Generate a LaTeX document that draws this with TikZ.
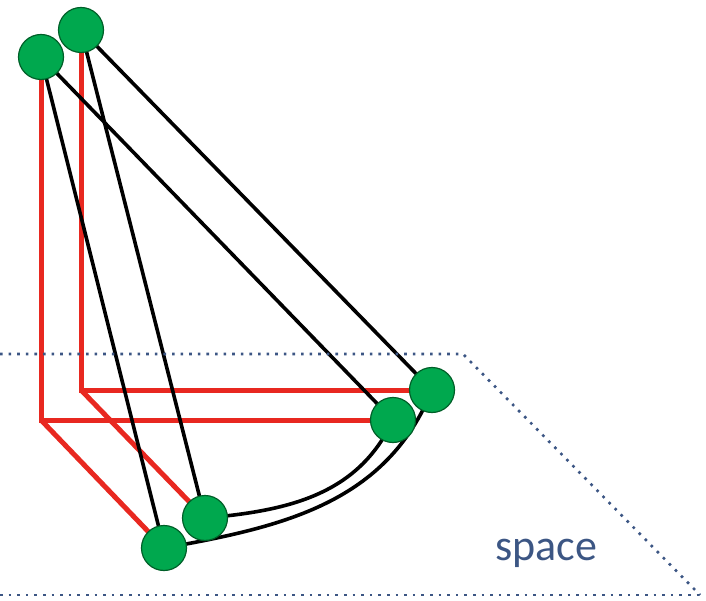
\documentclass[tikz,border=0pt]{standalone}
\usepackage{fontspec}
\setmainfont{Carlito}
\usetikzlibrary{backgrounds}

\definecolor{pointgreen}{RGB}{0,168,78}
\definecolor{pointrim}{RGB}{0,95,40}
\definecolor{linkred}{RGB}{232,40,32}
\definecolor{planeblue}{RGB}{60,86,132}

\begin{document}
\begin{tikzpicture}[
    x=1pt,
    y=-1pt,
    point/.style={
        circle,
        fill=pointgreen,
        draw=pointrim,
        line width=1.2pt,
        minimum size=45pt,
        inner sep=0pt
    },
    projection/.style={
        linkred,
        line width=5pt,
        line join=miter
    },
    link/.style={
        black,
        line width=3.6pt
    },
    plane/.style={
        planeblue,
        line width=2.6pt,
        dash pattern=on 2.6pt off 6pt
    },
    planelabel/.style={
        text=planeblue,
        font=\fontsize{44}{50}\selectfont,
        inner sep=0pt
    }
]

\useasboundingbox (0,0) rectangle (706,601);

\draw[plane]
    (0,354) -- (463,354) -- (700,595);
\draw[plane]
    (0,595) -- (700,595);

\node[planelabel] (spacelabel) at (546,553) {space};

\node[point] (A1) at (41,57) {};
\node[point] (B1) at (81,30) {};
\node[point] (A2) at (164,548) {};
\node[point] (B2) at (205,518) {};
\node[point] (A3) at (393,420) {};
\node[point] (B3) at (432,390) {};

\begin{scope}[on background layer]
\coordinate (cornerA) at (A1 |- A3);
\coordinate (cornerB) at (B1 |- B3);

\draw[projection]
    (A1.center) -- (cornerA) -- (A3.center);
\draw[projection]
    (cornerA) -- (A2.center);
\draw[projection]
    (B1.center) -- (cornerB) -- (B3.center);
\draw[projection]
    (cornerB) -- (B2.center);

\draw[link]
    (A1.center) -- (A2.center);
\draw[link]
    (A1.center) -- (A3.center);
\draw[link]
    (B1.center) -- (B2.center);
\draw[link]
    (B1.center) -- (B3.center);

\draw[link]
    (B2.center)
    to[out=5,in=-115]
    (A3.center);
\draw[link]
    (A2.center)
    to[out=10,in=-112]
    (B3.center);
\end{scope}

\end{tikzpicture}
\end{document}
